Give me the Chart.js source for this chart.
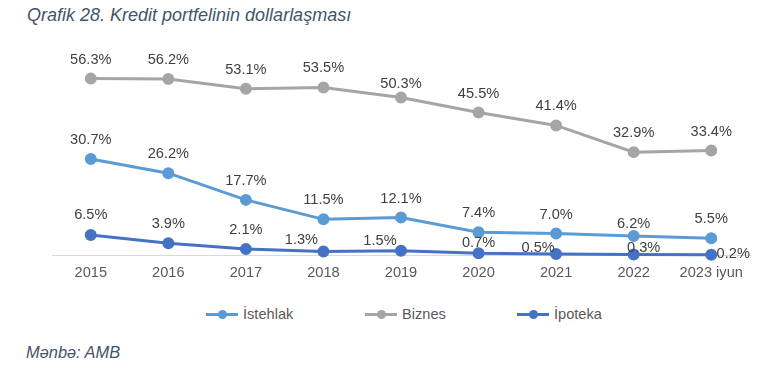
<!DOCTYPE html>
<html>
<head>
<meta charset="utf-8">
<script src="https://cdn.jsdelivr.net/npm/chart.js@4.4.0/dist/chart.umd.min.js"></script>
<style>
  html, body { margin: 0; padding: 0; background: #fff; }
  body { width: 763px; height: 379px; position: relative; overflow: hidden; font-family: "Liberation Sans", Arial, sans-serif; }
  #title { position: absolute; left: 27px; top: 5px; font-size: 18px; font-style: italic; color: #44546A; white-space: nowrap; }
  #source { position: absolute; left: 26px; top: 343px; font-size: 16.4px; font-style: italic; color: #44546A; white-space: nowrap; }
  #chartWrap { position: absolute; left: 0; top: 0; width: 763px; height: 291px; }
  .leg { position: absolute; top: 305px; height: 18px; display: flex; align-items: center; font-size: 14.6px; color: #595959; white-space: nowrap; }
  .mk { position: relative; width: 32px; height: 18px; margin-right: 5px; }
  .mk .ln { position: absolute; left: 0; right: 0; top: 7.5px; height: 3px; }
  .mk .dt { position: absolute; left: 11.5px; top: 4.5px; width: 9px; height: 9px; border-radius: 50%; }
</style>
</head>
<body>
<div id="title">Qrafik 28. Kredit portfelinin dollarlaşması</div>
<div id="chartWrap"><canvas id="c" width="763" height="291"></canvas></div>
<div id="legend"></div>
<div id="source">Mənbə: AMB</div>
<script>
// ---- data ----
const categories = ["2015", "2016", "2017", "2018", "2019", "2020", "2021", "2022", "2023 iyun"];
const seriesNames = ["İstehlak", "Biznes", "İpoteka"];
const istehlak = [30.7, 26.2, 17.7, 11.5, 12.1, 7.4, 7.0, 6.2, 5.5];
const biznes   = [56.3, 56.2, 53.1, 53.5, 50.3, 45.5, 41.4, 32.9, 33.4];
const ipoteka  = [6.5, 3.9, 2.1, 1.3, 1.5, 0.7, 0.5, 0.3, 0.2];

// ---- styling (not data) ----
const colors = ["#5B9BD5", "#A5A5A5", "#4472C4"];
// data-label nudges relative to each point [dx, dy]
const labelNudges = [
  [[0,-19],[0,-19],[0,-19],[0,-19],[0,-19],[0,-19],[0,-19],[0,-12.5],[0,-19]],
  [[0,-19],[0,-19],[0,-19],[0,-19],[0,-14],[0,-19],[0,-19],[0,-19],[0,-19]],
  [[0,-20],[0,-19.5],[0,-18.6],[-22,-11],[-21,-10],[0,-10.6],[-18,-6.3],[10,-6.3],[22,-1.2]]
];
const FONT = '"Liberation Sans", Arial, sans-serif';

const valueLabels = {
  id: 'valueLabels',
  afterDatasetsDraw(chart) {
    const ctx = chart.ctx;
    ctx.save();
    ctx.font = '14.6px ' + FONT;
    ctx.fillStyle = '#404040';
    ctx.textAlign = 'center';
    ctx.textBaseline = 'middle';
    chart.data.datasets.forEach((ds, di) => {
      const meta = chart.getDatasetMeta(di);
      meta.data.forEach((pt, i) => {
        const n = labelNudges[di][i];
        ctx.fillText(ds.data[i].toFixed(1) + '%', pt.x + n[0], pt.y + n[1]);
      });
    });
    ctx.restore();
  }
};

const seriesData = [istehlak, biznes, ipoteka];
const datasets = seriesData.map((d, i) => ({
  label: seriesNames[i],
  data: d,
  borderColor: colors[i],
  backgroundColor: colors[i],
  pointBackgroundColor: colors[i],
  pointBorderColor: colors[i],
  borderWidth: 3,
  pointRadius: 4.5,
  pointHoverRadius: 4.5,
  tension: 0,
  clip: false,
  order: 3 - i
}));

new Chart(document.getElementById('c'), {
  type: 'line',
  data: { labels: categories, datasets },
  options: {
    responsive: false,
    animation: false,
    devicePixelRatio: 1,
    layout: { padding: { left: 52, right: 13, top: 67, bottom: 0 } },
    plugins: { legend: { display: false }, tooltip: { enabled: false } },
    scales: {
      x: {
        offset: true,
        grid: { display: false, drawTicks: false },
        border: { display: true, color: '#D9D9D9', width: 1 },
        ticks: { color: '#595959', font: { family: FONT, size: 14.6 }, padding: 9, maxRotation: 0, autoSkip: false }
      },
      y: { display: false, min: 0, max: 60 }
    }
  },
  plugins: [valueLabels]
});

// HTML legend
const legendLefts = [206, 365, 517];
const lg = document.getElementById('legend');
seriesNames.forEach((name, i) => {
  const item = document.createElement('div');
  item.className = 'leg';
  item.style.left = legendLefts[i] + 'px';
  item.innerHTML = '<div class="mk"><div class="ln" style="background:' + colors[i] + '"></div><div class="dt" style="background:' + colors[i] + '"></div></div><span>' + name + '</span>';
  lg.appendChild(item);
});
</script>
</body>
</html>
